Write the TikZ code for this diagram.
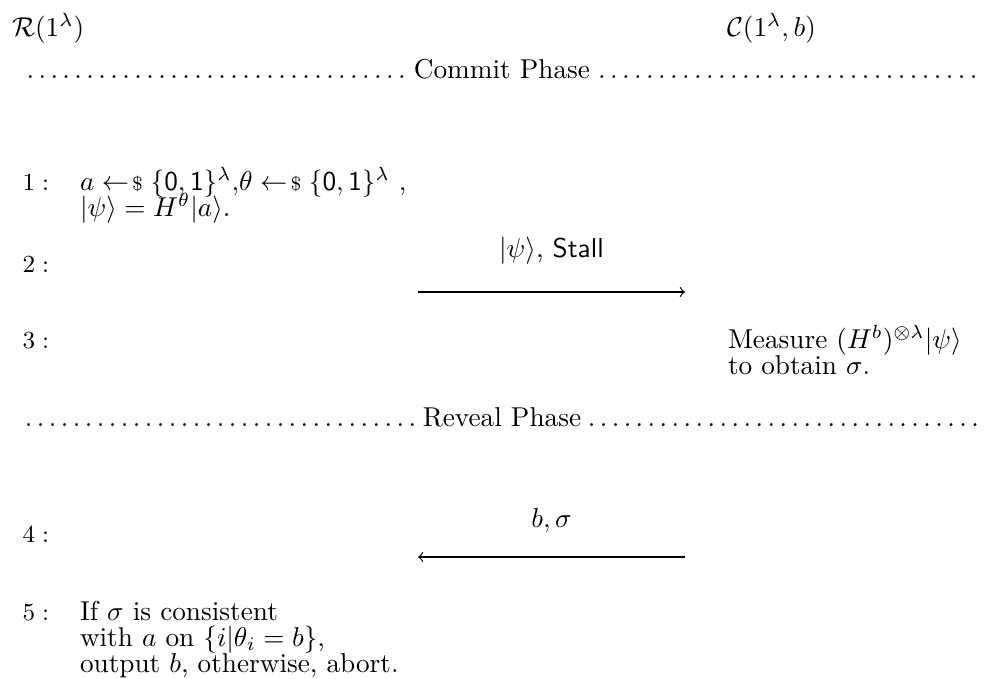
\documentclass[tikz,border=0pt]{standalone}
\usepackage{amsmath,amssymb}
\newcommand{\smp}{\mathrel{\leftarrow\mkern-3mu\text{\scriptsize\$}}}
\begin{document}
\begin{tikzpicture}[x=0.367pt,y=-0.367pt,
  txt/.style={anchor=base west,inner sep=0pt,outer sep=0pt},
  num/.style={anchor=base west,inner sep=0pt,font=\small},
  msg/.style={anchor=base,inner sep=0pt},
  phase/.style={anchor=base,inner sep=0pt,text width=355pt},
  arr/.style={->,line width=0.45pt}]
\useasboundingbox (0,0) rectangle (989,678);
\node[txt] (R) at (12,36) {$\mathcal{R}(1^\lambda)$};
\node[txt] (C) at (727,36) {$\mathcal{C}(1^\lambda,b)$};
\node[phase] (commit) at (502,78) {\dotfill{}Commit Phase\dotfill};
\node[num] (n1) at (22,190) {$1:$};
\node[txt] (l1a) at (80,190) {$a \smp \{\mathsf{0,1}\}^\lambda{,}\theta \smp \{\mathsf{0,1}\}^\lambda$\ ,};
\node[txt] (l1b) at (80,216) {$|\psi\rangle = H^\theta|a\rangle$.};
\node[num] (n2) at (22,272) {$2:$};
\coordinate (a1s) at (418,292);
\coordinate (a1e) at (685,292);
\draw[arr] (a1s) -- (a1e);
\node[msg] (m1) at (551.5,257) {$|\psi\rangle$, \textsf{Stall}};
\node[num] (n3) at (22,348) {$3:$};
\node[txt] (l3a) at (728,348) {Measure $(H^b)^{\otimes\lambda}|\psi\rangle$};
\node[txt] (l3b) at (728,374) {to obtain $\sigma$.};
\node[phase] (reveal) at (502,426) {\dotfill{}Reveal Phase\dotfill};
\node[num] (n4) at (22,542) {$4:$};
\coordinate (a2s) at (685,557);
\coordinate (a2e) at (418,557);
\draw[arr] (a2s) -- (a2e);
\node[msg] (m2) at (551.5,527) {$b,\sigma$};
\node[num] (n5) at (22,620) {$5:$};
\node[txt] (l5a) at (80,620) {If $\sigma$ is consistent};
\node[txt] (l5b) at (80,646) {with $a$ on $\{i|\theta_i=b\}$,};
\node[txt] (l5c) at (80,672) {output $b$, otherwise, abort.};
\end{tikzpicture}
\end{document}
